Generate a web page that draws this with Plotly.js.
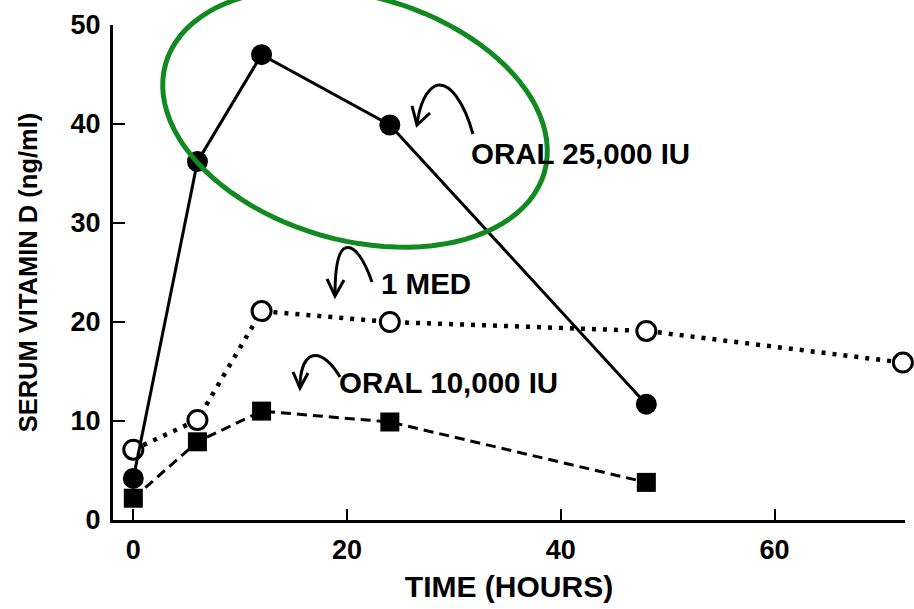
<!DOCTYPE html>
<html><head><meta charset="utf-8">
<script src="https://cdn.plot.ly/plotly-3.0.1.min.js"></script>
<style>html,body{margin:0;padding:0;background:#fff}#chart{width:914px;height:609px}</style>
</head><body><div id="chart"></div>
<script>
// ---- data ----
const hoursOral25 = [0, 6, 12, 24, 48];
const oral25000 = [4.2, 36.2, 47.0, 39.9, 11.7];
const hoursMed = [0, 6, 12, 24, 48, 72];
const med1 = [7.1, 10.1, 21.1, 20.0, 19.1, 15.9];
const hoursOral10 = [0, 6, 12, 24, 48];
const oral10000 = [2.2, 7.9, 11.0, 9.9, 3.8];
const xTickVals = [0, 20, 40, 60];
const yTickVals = [0, 10, 20, 30, 40, 50];
const labelOral25 = "ORAL 25,000 IU";
const labelMed = "1 MED";
const labelOral10 = "ORAL 10,000 IU";
const xTitle = "TIME (HOURS)";
const yTitle = "SERUM VITAMIN D (ng/ml)";

// ---- layout helpers ----
const M = {l: 113, r: 9, t: 25, b: 89};
const W = 914, H = 609;
const PW = W - M.l - M.r, PH = H - M.t - M.b;
const px = x => (x - M.l) / PW;
const py = y => (H - M.b - y) / PH;
const FONT = "Liberation Sans, Arial, Helvetica, sans-serif";
const GREEN = "rgb(18,138,34)";

function pathFrom(points) {
  return points.map((p, i) => (i ? "L" : "M") + px(p[0]).toFixed(4) + "," + py(p[1]).toFixed(4)).join(" ");
}
function curve(p0, c1, c2, p1) {
  const f = p => px(p[0]).toFixed(4) + "," + py(p[1]).toFixed(4);
  return "M" + f(p0) + " C" + f(c1) + " " + f(c2) + " " + f(p1);
}
// tilted ellipse
function ellipsePath(cx, cy, a, b, deg) {
  const th = deg * Math.PI / 180, pts = [];
  for (let i = 0; i <= 96; i++) {
    const t = 2 * Math.PI * i / 96;
    const x = cx + a * Math.cos(t) * Math.cos(th) - b * Math.sin(t) * Math.sin(th);
    const y = cy + a * Math.cos(t) * Math.sin(th) + b * Math.sin(t) * Math.cos(th);
    pts.push([x, y]);
  }
  return pathFrom(pts) + " Z";
}
const lineShape = (path, w) => ({type: "path", xref: "paper", yref: "paper", path: path,
  line: {color: "black", width: w}, layer: "above"});

const traces = [
  {x: hoursOral10, y: oral10000, mode: "lines+markers", cliponaxis: false,
   line: {color: "black", width: 3, dash: "10px,6px"},
   marker: {symbol: "square", size: 19, color: "black"}},
  {x: hoursMed, y: med1, mode: "lines+markers", cliponaxis: false,
   line: {color: "black", width: 4.5, dash: "4px,7px"},
   marker: {symbol: "circle", size: 19, color: "white", line: {color: "black", width: 3}}},
  {x: hoursOral25, y: oral25000, mode: "lines+markers", cliponaxis: false,
   line: {color: "black", width: 3},
   marker: {symbol: "circle", size: 21, color: "black"}}
];

const tickFont = {family: FONT, size: 27, color: "black", weight: "bold"};
const annFont = {family: FONT, size: 29.5, color: "black", weight: "bold"};

const layout = {
  width: W, height: H,
  margin: M,
  paper_bgcolor: "white", plot_bgcolor: "white",
  showlegend: false,
  xaxis: {
    range: [-1.9, 72.2], tickvals: xTickVals, ticks: "inside", ticklen: 11, tickwidth: 2,
    tickcolor: "black", showline: true, linecolor: "black", linewidth: 3,
    showgrid: false, zeroline: false, tickfont: tickFont, ticklabelstandoff: 4,
    title: {text: xTitle, font: {family: FONT, size: 30, color: "black", weight: "bold"}, standoff: 12}
  },
  yaxis: {
    range: [0, 50], tickvals: yTickVals, ticks: "inside", ticklen: 12, tickwidth: 2,
    tickcolor: "black", showline: true, linecolor: "black", linewidth: 3,
    showgrid: false, zeroline: false, tickfont: tickFont, ticklabelstandoff: 4,
    title: {text: yTitle, font: {family: FONT, size: 25.5, color: "black", weight: "bold"}, standoff: 26}
  },
  annotations: [
    {xref: "paper", yref: "paper", x: px(469), y: py(153), xanchor: "left", yanchor: "middle",
     text: labelOral25, showarrow: false, font: annFont},
    {xref: "paper", yref: "paper", x: px(379), y: py(283), xanchor: "left", yanchor: "middle",
     text: labelMed, showarrow: false, font: annFont},
    {xref: "paper", yref: "paper", x: px(337), y: py(382), xanchor: "left", yanchor: "middle",
     text: labelOral10, showarrow: false, font: annFont}
  ],
  shapes: [
    // curved pointer arrows
    lineShape(curve([473, 134], [465, 105], [450, 80], [435, 86]), 3),
    lineShape(curve([435, 86], [424, 92], [419, 110], [417, 124]), 3),
    lineShape(pathFrom([[412, 106], [417, 125], [430, 113]]), 3),

    lineShape(curve([372, 282], [365, 262], [355, 244], [345, 248]), 3),
    lineShape(curve([345, 248], [337, 252], [335, 275], [335, 295]), 3),
    lineShape(pathFrom([[327, 279], [335, 296], [344, 280]]), 3),

    lineShape(curve([340, 377], [333, 365], [322, 353], [312, 356]), 3),
    lineShape(curve([312, 356], [303, 359], [300, 374], [300, 387]), 3),
    lineShape(pathFrom([[293, 372], [300, 388], [308, 373]]), 3),

    // green highlight ellipse
    {type: "path", xref: "paper", yref: "paper", layer: "above",
     path: ellipsePath(355, 118, 197, 122, 16),
     line: {color: GREEN, width: 5}}
  ]
};

Plotly.newPlot("chart", traces, layout, {staticPlot: true, displayModeBar: false});
</script>
</body></html>
